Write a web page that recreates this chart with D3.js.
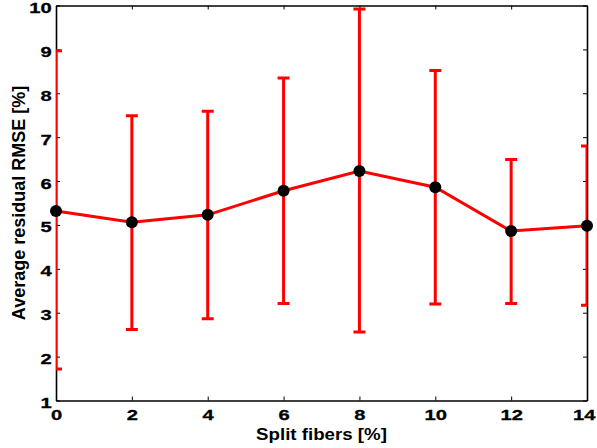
<!DOCTYPE html>
<html>
<head>
<meta charset="utf-8">
<script src="https://cdn.jsdelivr.net/npm/d3@7"></script>
<style>
  html, body { margin: 0; padding: 0; background: #fff; }
  svg { display: block; }
  text { font-family: "Liberation Sans", Arial, Helvetica, sans-serif; font-weight: bold; fill: #000; }
</style>
</head>
<body>
<svg id="chart" width="597" height="448"></svg>
<script>
// Data
const splitFibers = [0, 2, 4, 6, 8, 10, 12, 14];
const meanRMSE   = [5.32, 5.06, 5.23, 5.78, 6.23, 5.86, 4.86, 4.98];
const upperRMSE  = [8.97, 7.49, 7.59, 8.35, 9.92, 8.52, 6.49, 6.80];
const lowerRMSE  = [1.72, 2.62, 2.86, 3.21, 2.56, 3.20, 3.21, 3.17];
const xTicks = [0, 2, 4, 6, 8, 10, 12, 14];
const yTicks = [1, 2, 3, 4, 5, 6, 7, 8, 9, 10];

const svg = d3.select("#chart");
const mLeft = 56, mRight = 587, mTop = 5.5, mBottom = 400.5;

const x = d3.scaleLinear().domain([0, 14]).range([mLeft, mRight]);
const y = d3.scaleLinear().domain([1, 10]).range([mBottom, mTop]);

svg.append("defs").append("clipPath").attr("id", "clip")
  .append("rect").attr("x", mLeft).attr("y", mTop).attr("width", mRight - mLeft).attr("height", mBottom - mTop);

const data = splitFibers.map((d, i) => ({ x: d, m: meanRMSE[i], hi: upperRMSE[i], lo: lowerRMSE[i] }));

// Axes (box with inward ticks)
const tickLen = 4;
const sx = 1.3;
const axB = d3.axisBottom(x).tickValues(xTicks).tickSizeInner(-tickLen).tickSizeOuter(0).tickPadding(8.5);
const axT = d3.axisTop(x).tickValues(xTicks).tickSizeInner(-tickLen).tickSizeOuter(0).tickFormat("");
const axL = d3.axisLeft(y).tickValues(yTicks).tickSizeInner(-tickLen).tickSizeOuter(0).tickPadding(4.4 / sx);
const axR = d3.axisRight(y).tickValues(yTicks).tickSizeInner(-tickLen).tickSizeOuter(0).tickFormat("");

function styleAxis(g) {
  g.select(".domain").attr("stroke", "#000").attr("stroke-width", 1.6);
  g.selectAll(".tick line").attr("stroke", "#000").attr("stroke-width", 1);
  g.selectAll(".tick text").style("font-size", "15.5px").style("font-weight", "bold")
    .style("font-family", '"Liberation Sans", Arial, sans-serif').attr("fill", "#000")
    .attr("stroke", "#000").attr("stroke-width", 0.3)
    .attr("transform", `scale(${sx},1)`);
}
const gB = svg.append("g").attr("transform", `translate(0,${mBottom})`).call(axB).call(styleAxis);
svg.append("g").attr("transform", `translate(0,${mTop})`).call(axT).call(styleAxis);
const gL = svg.append("g").attr("transform", `translate(${mLeft},0)`).call(axL).call(styleAxis);
svg.append("g").attr("transform", `translate(${mRight},0)`).call(axR).call(styleAxis);

// y tick labels sit slightly below their ticks, as in the reference
gL.selectAll(".tick text").attr("dy", "0.45em");
// keep the last x tick label inside the figure
gB.selectAll(".tick text").filter(d => d === xTicks[xTicks.length - 1])
  .attr("text-anchor", "end").attr("x", 8 / sx);

// Error bars
const eb = svg.append("g").attr("clip-path", "url(#clip)");
const capW = 6;
data.forEach(d => {
  eb.append("line").attr("x1", x(d.x)).attr("x2", x(d.x)).attr("y1", y(d.lo)).attr("y2", y(d.hi))
    .attr("stroke", "#ff0000").attr("stroke-width", 3);
  [d.lo, d.hi].forEach(v => {
    eb.append("line").attr("x1", x(d.x) - capW).attr("x2", x(d.x) + capW).attr("y1", y(v)).attr("y2", y(v))
      .attr("stroke", "#ff0000").attr("stroke-width", 3);
  });
});

// Line
svg.append("path").datum(data)
  .attr("fill", "none").attr("stroke", "#ff0000").attr("stroke-width", 3)
  .attr("d", d3.line().x(d => x(d.x)).y(d => y(d.m)));

// Markers
svg.append("g").selectAll("circle").data(data).join("circle")
  .attr("cx", d => x(d.x)).attr("cy", d => y(d.m)).attr("r", 6).attr("fill", "#000");

// Labels
svg.append("text").attr("transform", `translate(${(mLeft + mRight) / 2},439.5) scale(1.1,1)`)
  .attr("text-anchor", "middle").style("font-size", "17px").text("Split fibers [%]");
svg.append("text").attr("transform", `translate(25,${(mTop + mBottom) / 2}) rotate(-90)`)
  .attr("text-anchor", "middle").style("font-size", "18px").text("Average residual RMSE [%]");
</script>
</body>
</html>
